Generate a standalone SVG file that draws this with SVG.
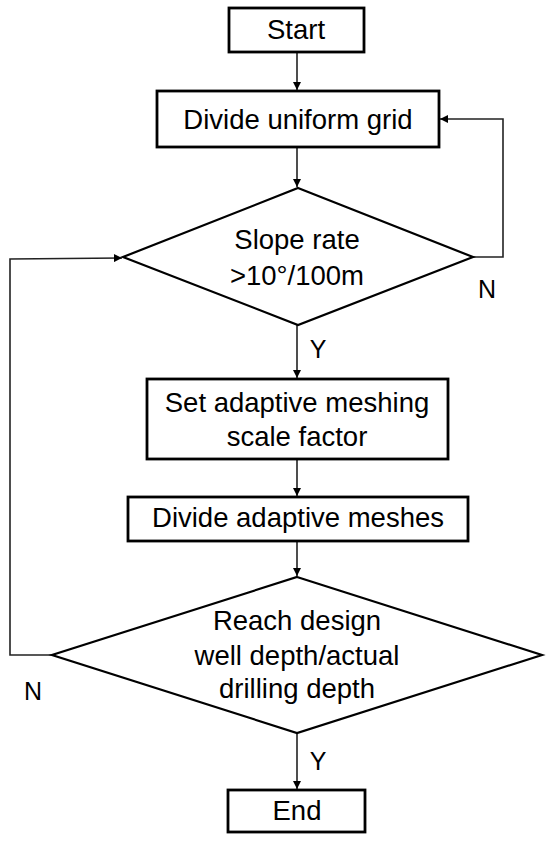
<svg xmlns="http://www.w3.org/2000/svg" width="550" height="841" viewBox="0 0 550 841">
<style>
.box{fill:#fff;stroke:#000;stroke-width:2.8}
.dia{fill:#fff;stroke:#000;stroke-width:2.2}
.t{font-family:"Liberation Sans",Arial,sans-serif;font-size:27.5px;fill:#000;text-anchor:middle}
.l{font-family:"Liberation Sans",Arial,sans-serif;font-size:25px;fill:#000;text-anchor:middle}
.c{fill:none;stroke:#222;stroke-width:1.6}
</style>
<defs>
<marker id="ah" viewBox="0 0 10 10" refX="10" refY="5" markerWidth="9" markerHeight="8" markerUnits="userSpaceOnUse" orient="auto">
<path d="M0,0 L10,5 L0,10 z" fill="#000"/>
</marker>
</defs>
<rect width="550" height="841" fill="#fff"/>
<g id="connectors">
<line class="c" x1="297" y1="52" x2="297" y2="90" marker-end="url(#ah)"/>
<line class="c" x1="297" y1="147" x2="297" y2="187" marker-end="url(#ah)"/>
<polyline class="c" points="473,257 503,257 503,119 440,119" marker-end="url(#ah)"/>
<line class="c" x1="297" y1="325" x2="297" y2="378" marker-end="url(#ah)"/>
<line class="c" x1="297" y1="459" x2="297" y2="496" marker-end="url(#ah)"/>
<line class="c" x1="297" y1="541" x2="297" y2="576" marker-end="url(#ah)"/>
<polyline class="c" points="52,655 10,655 10,259 122,258" marker-end="url(#ah)"/>
<line class="c" x1="297" y1="733" x2="297" y2="789" marker-end="url(#ah)"/>
<text class="l" x="487" y="298">N</text>
<text class="l" x="318" y="358">Y</text>
<text class="l" x="33" y="700">N</text>
<text class="l" x="318" y="770">Y</text>
</g>
<g id="start">
<rect class="box" x="229" y="8" width="135" height="44"/>
<text class="t" x="296" y="39">Start</text>
</g>
<g id="divide-uniform">
<rect class="box" x="157" y="91" width="282" height="56"/>
<text class="t" x="298" y="129">Divide uniform grid</text>
</g>
<g id="slope">
<polygon class="dia" points="298,188 473,257 298,325 123,257"/>
<text class="t" x="297" y="249">Slope rate</text>
<text class="t" x="297" y="285">&gt;10°/100m</text>
</g>
<g id="set-adaptive">
<rect class="box" x="147" y="379" width="301" height="80"/>
<text class="t" x="297" y="412">Set adaptive meshing</text>
<text class="t" x="297" y="446">scale factor</text>
</g>
<g id="divide-adaptive">
<rect class="box" x="128" y="497" width="340" height="44"/>
<text class="t" x="298" y="527">Divide adaptive meshes</text>
</g>
<g id="reach">
<polygon class="dia" points="297,577 542,655 297,733 52,655"/>
<text class="t" x="297" y="630">Reach design</text>
<text class="t" x="297" y="665">well depth/actual</text>
<text class="t" x="297" y="698">drilling depth</text>
</g>
<g id="end">
<rect class="box" x="228" y="790" width="137" height="42"/>
<text class="t" x="297" y="820">End</text>
</g>
</svg>
